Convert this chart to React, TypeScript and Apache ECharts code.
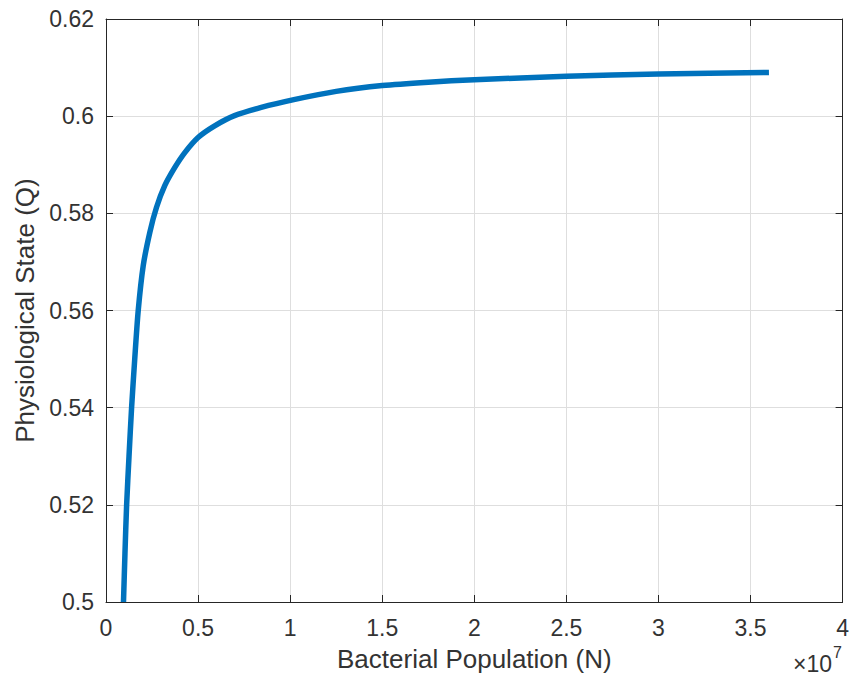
import React, { useEffect, useRef } from "react";
import * as echarts from "echarts";

// Bacterial population N (raw counts)
const populationN: number[] = [
  950000, 1030000, 1120000, 1250000, 1390000, 1560000, 1750000, 2020000,
  2380000, 2740000, 3190000, 3730000, 4280000, 5000000, 5900000, 6980000,
  8430000, 10200000, 12500000, 15000000, 17500000, 20000000, 25000000,
  30000000, 36000000,
];
// Physiological state Q
const stateQ: number[] = [
  0.5, 0.51, 0.52, 0.53, 0.54, 0.55, 0.56, 0.5692, 0.5761, 0.5812, 0.5857,
  0.5894, 0.5925, 0.5956, 0.598, 0.6001, 0.6018, 0.6034, 0.6051, 0.6063,
  0.607, 0.6075, 0.6082, 0.6087, 0.609,
];

const xTitle = "Bacterial Population (N)";
const yTitle = "Physiological State (Q)";
const xExponentBase = "×10";
const xExponent = "7";

const FONT = "'Liberation Sans', Arial, Helvetica, sans-serif";
const TXT = "#333333";
const AX = "#262626";

export default function App() {
  const ref = useRef<HTMLDivElement>(null);
  useEffect(() => {
    if (!ref.current) return;
    const chart = echarts.init(ref.current, undefined, { renderer: "svg" });
    const data = populationN.map((n, i) => [n, stateQ[i]]);
    const xCommon = {
      type: "value" as const,
      min: 0,
      max: 40000000,
      interval: 5000000,
      axisLine: { show: true, onZero: false, lineStyle: { color: AX, width: 1 } },
      axisTick: { show: true, inside: true, length: 7, lineStyle: { color: AX } },
    };
    const yCommon = {
      type: "value" as const,
      min: 0.5,
      max: 0.62,
      interval: 0.02,
      axisLine: { show: true, onZero: false, lineStyle: { color: AX, width: 1 } },
      axisTick: { show: true, inside: true, length: 7, lineStyle: { color: AX } },
    };
    chart.setOption({
      animation: false,
      backgroundColor: "#ffffff",
      grid: { left: 106, top: 19, width: 739, height: 583, containLabel: false },
      xAxis: [
        {
          ...xCommon,
          position: "bottom",
          name: xTitle,
          nameLocation: "middle",
          nameGap: 44,
          nameTextStyle: { fontFamily: FONT, fontSize: 26, color: TXT },
          axisLabel: {
            fontFamily: FONT,
            fontSize: 23,
            color: TXT,
            margin: 14,
            formatter: (v: number) => String(Number((v / 1e7).toFixed(2))),
          },
          splitLine: { show: true, lineStyle: { color: "#dedede", width: 1 } },
        },
        {
          ...xCommon,
          position: "top",
          axisLabel: { show: false },
          splitLine: { show: false },
        },
      ],
      yAxis: [
        {
          ...yCommon,
          position: "left",
          name: yTitle,
          nameLocation: "middle",
          nameRotate: 90,
          nameGap: 68,
          nameTextStyle: { fontFamily: FONT, fontSize: 26, color: TXT },
          axisLabel: {
            fontFamily: FONT,
            fontSize: 23,
            color: TXT,
            margin: 12,
            formatter: (v: number) => String(Number(v.toFixed(2))),
          },
          splitLine: { show: true, lineStyle: { color: "#dedede", width: 1 } },
        },
        {
          ...yCommon,
          position: "right",
          axisLabel: { show: false },
          splitLine: { show: false },
        },
      ],
      graphic: [
        {
          type: "text",
          right: 20,
          top: 652,
          style: { text: xExponentBase, font: `23px ${FONT}`, fill: TXT },
        },
        {
          type: "text",
          left: 833,
          top: 644,
          style: { text: xExponent, font: `16px ${FONT}`, fill: TXT },
        },
      ],
      series: [
        {
          type: "line",
          data,
          xAxisIndex: 0,
          yAxisIndex: 0,
          showSymbol: false,
          smooth: 0.25,
          lineStyle: { color: "#0072BD", width: 5.5 },
          clip: false,
        },
      ],
    });
    return () => chart.dispose();
  }, []);
  return (
    <div
      ref={ref}
      style={{ position: "absolute", left: 0, top: 0, width: 852, height: 678 }}
    />
  );
}
